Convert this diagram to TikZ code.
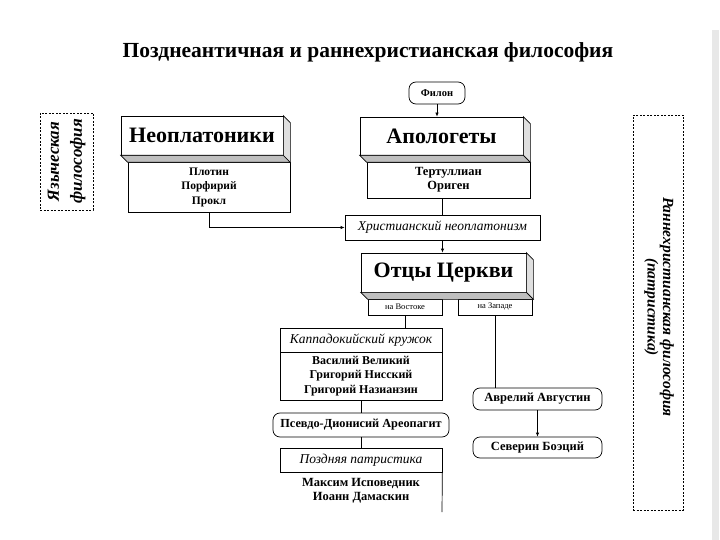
\documentclass[tikz,border=0pt]{standalone}
\usepackage{fontspec}
\setmainfont{Liberation Serif}
\usetikzlibrary{arrows.meta,calc}
\newcommand\boxdepth[1]{%
  \filldraw[fill=gray!50] (#1.south west) -- ++(7,7) -- ($(#1.south east)+(7,7)$) -- (#1.south east) -- cycle;
  \filldraw[fill=gray!25] (#1.north east) -- ++(7,7) -- ($(#1.south east)+(7,7)$) -- (#1.south east) -- cycle;}
\begin{document}
\begin{tikzpicture}[x=1pt,y=-1pt,line width=0.7pt,
  front/.style={draw, fill=white, inner sep=0, font=\fontsize{22}{24}\selectfont\bfseries},
  pill/.style={draw, rounded corners=7, fill=white, inner sep=0, font=\fontsize{12.5}{14}\selectfont\bfseries},
  lst/.style={draw, fill=white, inner sep=0, align=center, font=\fontsize{11.5}{14.5}\selectfont\bfseries},
  hd/.style={draw, fill=white, inner sep=0, font=\fontsize{13.5}{15}\selectfont\itshape},
  small/.style={draw, fill=white, inner sep=0, font=\fontsize{8.5}{10}\selectfont},
  dbox/.style={draw, dash pattern=on 2pt off 1.5pt, inner sep=0},
  arr/.style={-{Latex[length=4pt,width=3.5pt]}}]
\useasboundingbox (0,0) rectangle (720,540);
\fill[gray!18] (712,30) rectangle (719,540);

\node[font=\fontsize{21.5}{24}\selectfont\bfseries] (title) at (368,52) {Позднеантичная и раннехристианская философия};

% left / right dashed frames
\node[dbox, minimum width=53, minimum height=97] (pagan) at (66.5,161.5) {};
\node[rotate=90, align=center, font=\fontsize{17}{23}\selectfont\bfseries\itshape] (pagant) at (pagan.center) {Языческая\\философия};
\node[dbox, minimum width=50, minimum height=395] (patr) at (658,312.5) {};
\node[rotate=-90, align=center, font=\fontsize{15.5}{15.5}\selectfont\bfseries\itshape] (patrt) at (659,307) {Раннехристианская философия\\(патристика)};

% top
\node[pill, minimum width=56, minimum height=22, font=\fontsize{10.5}{12}\selectfont\bfseries] (filon) at (437,93) {Филон};

\node[lst, minimum width=162, minimum height=50] (neol) at (209,187) {Плотин\\Порфирий\\Прокл};
\node[front, minimum width=162, minimum height=39] (neo) at (202,135.5) {Неоплатоники};
\boxdepth{neo}

\node[lst, minimum width=163, minimum height=36, font=\fontsize{12.5}{14}\selectfont\bfseries] (apoll) at (448.5,180) {Тертуллиан\\Ориген};
\node[front, minimum width=163, minimum height=38] (apol) at (441.5,136) {Апологеты};
\boxdepth{apol}

\node[hd, minimum width=195, minimum height=25] (hn) at (442.5,227.5) {Христианский неоплатонизм};

\node[small, minimum width=74, minimum height=16] (vost) at (405,307) {на Востоке};
\node[small, minimum width=74, minimum height=16] (zap) at (495,307) {на Западе};
\node[front, minimum width=165, minimum height=39] (otcy) at (443.5,272.5) {Отцы Церкви};
\boxdepth{otcy}

% east
\node[hd, minimum width=162, minimum height=24] (kaph) at (361,340) {Каппадокийский кружок};
\node[lst, minimum width=162, minimum height=48, font=\fontsize{12}{14.5}\selectfont\bfseries] (kapl) at (361,376) {Василий Великий\\Григорий Нисский\\Григорий Назианзин};
\node[pill, minimum width=176, minimum height=24, font=\fontsize{12.3}{14}\selectfont\bfseries] (pseudo) at (361,425) {Псевдо-Дионисий Ареопагит};
\node[hd, minimum width=162, minimum height=24] (pozdh) at (361,460) {Поздняя патристика};
\node[align=center, inner sep=0, font=\fontsize{12.5}{14}\selectfont\bfseries] (pozdl) at (361,491) {Максим Исповедник\\Иоанн Дамаскин};
\coordinate (pozdend) at (442,512);

% west
\node[pill, minimum width=129, minimum height=22] (avr) at (537.5,399) {Аврелий Августин};
\node[pill, minimum width=129, minimum height=21] (sev) at (537.5,447.5) {Северин Боэций};

% connectors
\draw[arr] (filon.south) -- (filon.south |- apol.north);
\draw[arr] (neol.south) |- (hn.west);
\draw (hn.north |- apoll.south) -- (hn.north);
\draw[arr] (hn.south) -- (hn.south |- otcy.north);
\draw (vost.south) -- (vost.south |- kaph.north);
\draw (zap.south) -- (zap.south |- avr.north);
\draw (pseudo.north |- kapl.south) -- (pseudo.north);
\draw (pseudo.south) -- (pseudo.south |- pozdh.north);
\draw (pozdh.south east) -- (pozdend);
\draw[arr] (avr.south) -- (sev.north);
\end{tikzpicture}
\end{document}
